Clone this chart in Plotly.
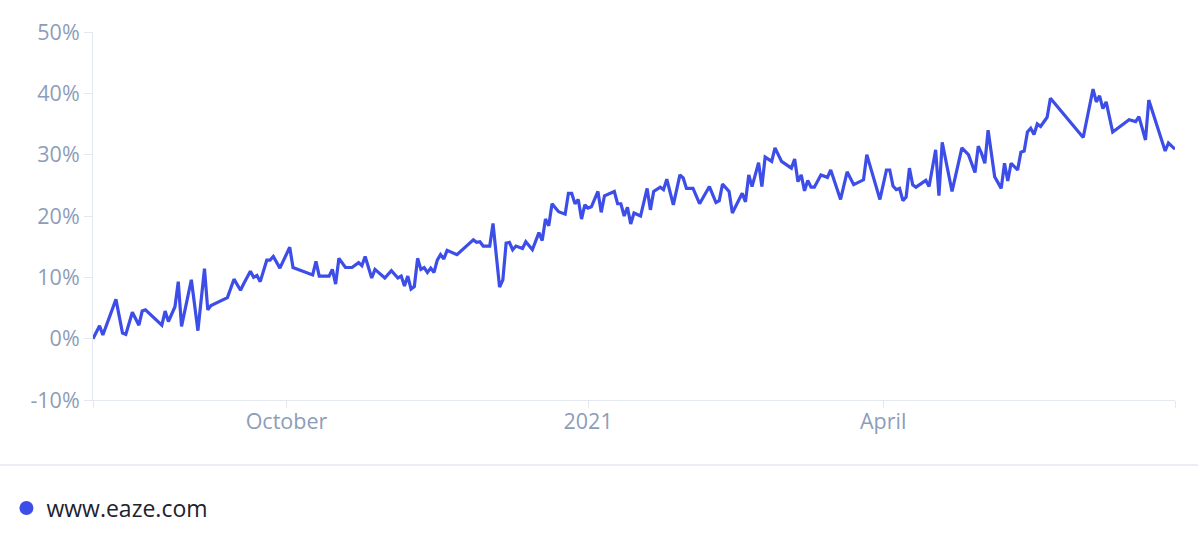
import pandas as pd
import plotly.graph_objects as go

series_name = "www.eaze.com"
start_date = "2020-08-03"
end_offset = 330

# day offsets from start_date and share values (%)
day_offsets = [
    0, 2, 3, 7, 9, 10, 12, 14, 15, 16, 21, 22, 23, 25, 26, 27, 30, 32, 34, 35,
    36, 41, 43, 45, 46, 48, 49, 50, 51, 53, 54, 55, 57, 58, 60, 61, 67, 68, 69, 72,
    73, 74, 75, 77, 79, 81, 82, 83, 85, 86, 89, 91, 93, 94, 95, 96, 97, 98, 99, 100,
    101, 102, 103, 104, 105, 106, 107, 108, 111, 116, 117, 118, 119, 121, 122, 124, 125, 126, 127, 128,
    129, 131, 132, 134, 136, 137, 138, 139, 140, 142, 144, 145, 146, 147, 148, 149, 150, 151, 152, 154,
    155, 156, 159, 160, 161, 162, 163, 164, 165, 167, 169, 170, 171, 173, 174, 175, 177, 179, 180, 181,
    183, 185, 188, 190, 191, 192, 194, 195, 198, 199, 200, 201, 203, 204, 205, 207, 208, 210, 213, 214,
    215, 216, 217, 218, 219, 220, 222, 224, 225, 228, 230, 232, 235, 236, 240, 242, 243, 244, 245, 246,
    247, 248, 249, 250, 251, 254, 255, 257, 258, 259, 262, 265, 267, 269, 270, 271, 272, 273, 275, 277,
    278, 279, 280, 282, 283, 284, 285, 286, 287, 288, 289, 291, 292, 302, 305, 306, 307, 308, 309, 311,
    316, 318, 319, 321, 322, 327, 328, 330,
]
share_pct = [
    0.0, 2.1, 0.6, 6.4, 0.9, 0.7, 4.3, 2.2, 4.5, 4.7, 2.2, 4.5, 2.8, 5.2, 9.3, 2.0, 9.6, 1.3, 11.4, 4.7,
    5.4, 6.7, 9.7, 7.9, 9.0, 11.0, 10.0, 10.3, 9.3, 12.8, 12.8, 13.4, 11.5, 12.6, 14.9, 11.6, 10.4, 12.6, 10.2, 10.2,
    11.3, 8.9, 13.1, 11.6, 11.6, 12.4, 11.9, 13.4, 9.9, 11.3, 9.9, 11.1, 9.9, 10.2, 8.6, 10.2, 8.1, 8.5, 13.1, 11.3,
    11.6, 10.8, 11.5, 10.8, 12.8, 13.7, 13.0, 14.4, 13.7, 16.1, 15.7, 15.8, 15.1, 15.1, 18.8, 8.4, 9.6, 15.6, 15.7, 14.5,
    15.1, 14.7, 15.8, 14.5, 17.3, 16.0, 19.5, 18.4, 22.0, 20.7, 20.3, 23.7, 23.7, 22.0, 22.7, 19.5, 21.8, 21.3, 21.5, 24.0,
    20.6, 23.3, 24.0, 22.0, 22.0, 20.0, 21.4, 18.7, 20.5, 20.0, 24.5, 21.0, 24.0, 24.7, 24.3, 26.0, 21.8, 26.7, 26.2, 24.5,
    24.5, 22.0, 24.8, 22.2, 22.5, 25.2, 24.0, 20.5, 23.7, 22.3, 26.7, 24.8, 28.7, 24.8, 29.6, 28.9, 31.1, 28.9, 27.8, 29.3,
    25.6, 26.7, 24.1, 25.8, 24.7, 24.7, 26.7, 26.3, 27.5, 22.7, 27.2, 25.1, 25.9, 30.0, 22.7, 27.5, 27.5, 24.9, 24.3, 24.5,
    22.5, 23.1, 27.8, 25.1, 24.7, 25.8, 24.8, 30.8, 23.3, 32.0, 24.0, 31.1, 30.0, 27.1, 31.4, 30.2, 28.6, 34.0, 26.4, 24.5,
    28.6, 25.7, 28.6, 27.5, 30.4, 30.6, 33.7, 34.3, 33.3, 35.0, 34.6, 36.1, 39.2, 32.8, 40.7, 38.6, 39.6, 37.5, 38.6, 33.7,
    35.7, 35.4, 36.2, 32.4, 38.9, 30.6, 31.9, 30.9,
]

tick_dates = ["2020-10-01", "2021-01-01", "2021-04-01"]
tick_labels = ["October", "2021", "April"]
y_ticks = [-10, 0, 10, 20, 30, 40, 50]
y_tick_labels = ["-10%", "0%", "10%", "20%", "30%", "40%", "50%"]

base = pd.Timestamp(start_date)
dates = base + pd.to_timedelta(day_offsets, unit="D")
end_date = base + pd.Timedelta(days=end_offset)

line_color = "#3d4de8"
tick_color = "#8d9db9"
axis_color = "#e4e9f1"

fig = go.Figure()
fig.add_trace(go.Scatter(
    x=dates, y=share_pct, mode="lines",
    line=dict(color=line_color, width=3.2),
    showlegend=False, hoverinfo="x+y",
))
fig.add_trace(go.Scatter(
    x=[None], y=[None], mode="markers", name=series_name,
    marker=dict(color=line_color, size=14),
))

fig.update_layout(
    width=1198, height=536,
    margin=dict(l=93, r=23, t=32, b=136, autoexpand=False),
    paper_bgcolor="white", plot_bgcolor="white",
    font=dict(family="Open Sans", color=tick_color, size=21),
    showlegend=True,
    legend=dict(
        orientation="h", x=-0.080, xanchor="left", y=-0.2935, yanchor="middle",
        font=dict(size=23, color="#1e2330", family="Open Sans"),
        itemsizing="trace",
    ),
    xaxis=dict(
        range=[base, end_date],
        tickmode="array",
        tickvals=[base] + [pd.Timestamp(d) for d in tick_dates] + [end_date],
        ticktext=[""] + tick_labels + [""],
        ticks="outside", ticklen=7, tickcolor=axis_color, tickwidth=1,
        ticklabelstandoff=-5,
        showline=True, linecolor=axis_color, linewidth=1,
        showgrid=False, zeroline=False, automargin=False,
        tickfont=dict(size=21.5, color=tick_color),
    ),
    yaxis=dict(
        range=[-10, 50], tickmode="array", tickvals=y_ticks, ticktext=y_tick_labels,
        ticks="outside", ticklen=8, tickcolor=axis_color, tickwidth=1,
        showline=True, linecolor=axis_color, linewidth=1,
        showgrid=False, zeroline=False, automargin=False,
        tickfont=dict(size=21.5, color=tick_color),
    ),
    shapes=[dict(
        type="line", xref="paper", yref="paper",
        x0=-0.09, x1=1.03, y0=-0.1766, y1=-0.1766,
        line=dict(color=axis_color, width=1.5),
    )],
)

fig.write_html(
    "out.html",
    config={"displayModeBar": False},
    post_script="document.body.style.margin='0';document.body.style.overflow='hidden';",
)
